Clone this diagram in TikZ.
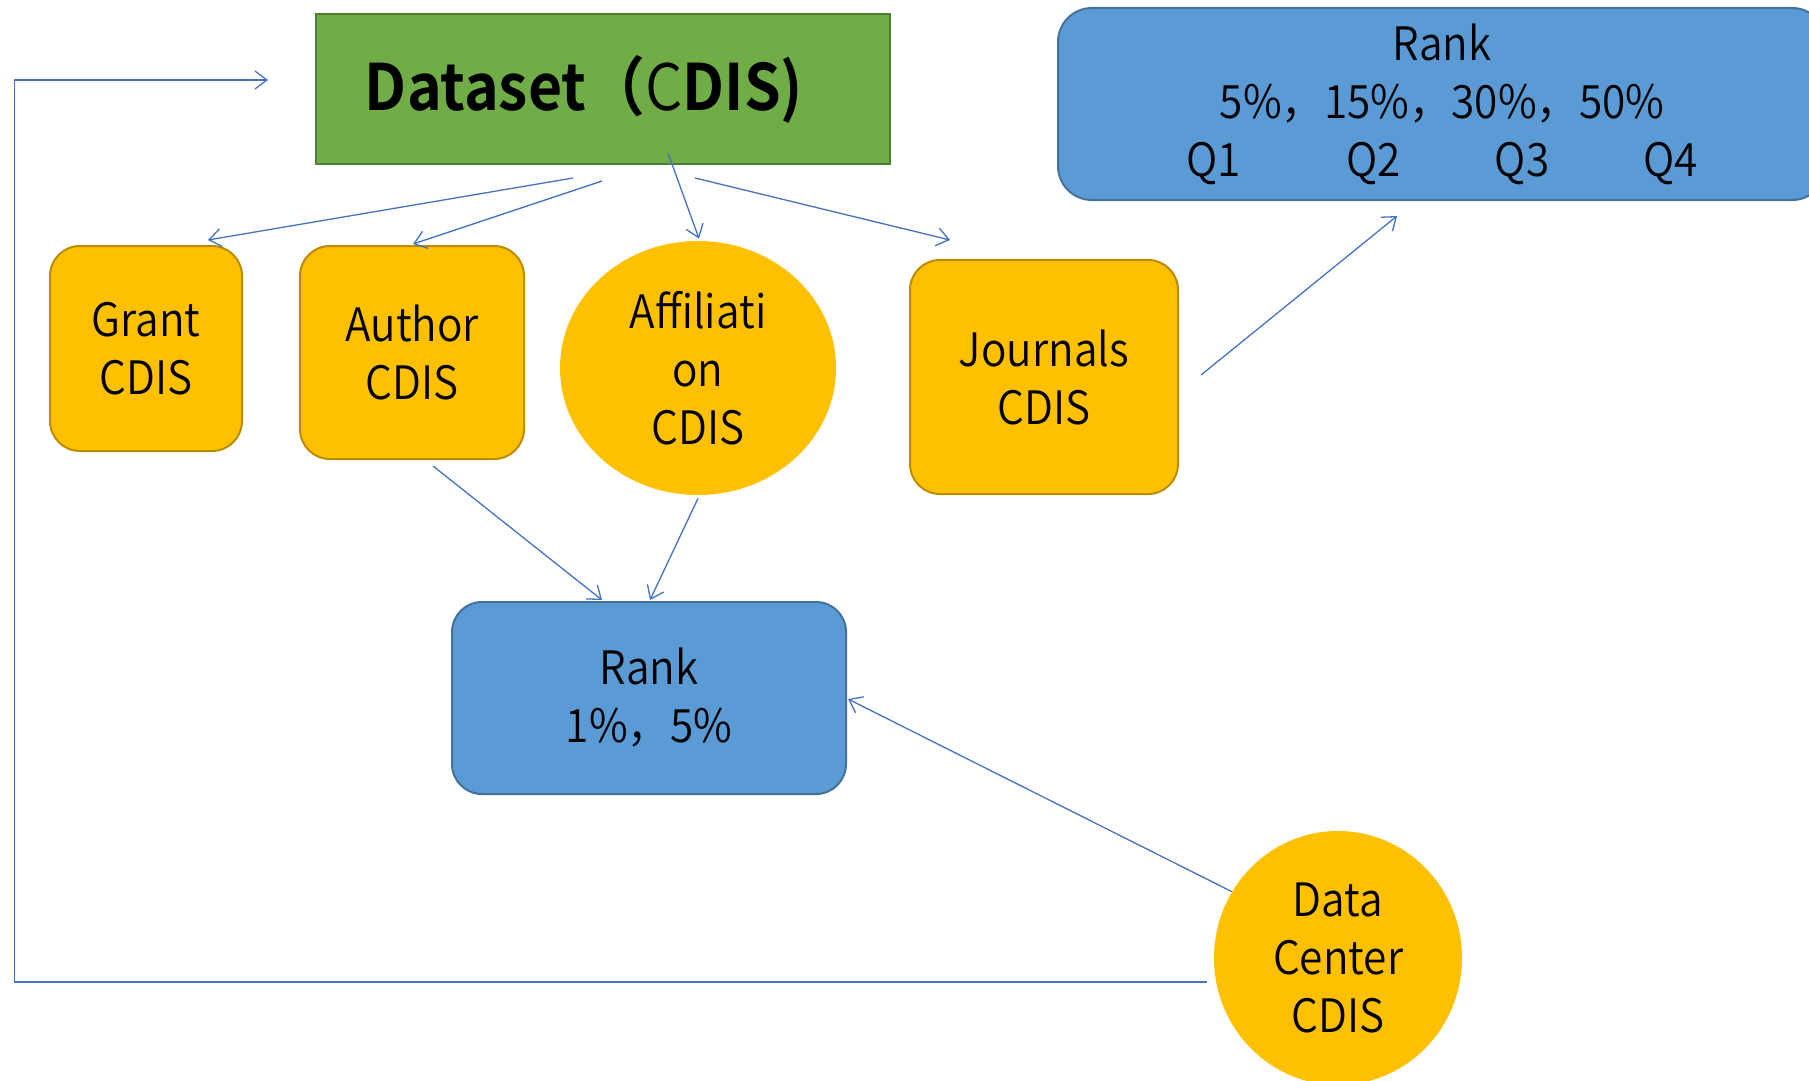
\documentclass[tikz,border=0pt]{standalone}
\usepackage{fontspec}
\setmainfont{Noto Sans CJK SC}[UprightFont=* DemiLight, BoldFont=* Bold, FakeStretch=0.92]
\usetikzlibrary{arrows.meta, shapes.geometric}
\definecolor{leaf}{HTML}{70AD47}
\definecolor{leafline}{HTML}{507E32}
\definecolor{amber}{HTML}{FFC000}
\definecolor{amberline}{HTML}{BC8C00}
\definecolor{sky}{HTML}{5B9BD5}
\definecolor{skyline}{HTML}{41719C}
\definecolor{wire}{HTML}{4472C4}

\begin{document}
\begin{tikzpicture}[x=0.5pt, y=-0.5pt,
  every node/.style={align=center, font=\fontsize{23}{29}\selectfont},
  src/.style={draw=leafline, line width=1pt, fill=leaf, minimum width=287pt, minimum height=75pt},
  part/.style={draw=amberline, line width=1pt, fill=amber, rounded corners=15pt},
  partoval/.style={ellipse, fill=amber, inner sep=0pt},
  rank/.style={draw=skyline, line width=1pt, fill=sky, rounded corners=15pt},
  link/.style={wire, line width=0.65pt, -{Straight Barb[length=6pt, width=9pt]}}]
\useasboundingbox (0,0) rectangle (1809,1081);

\node[src, font=\fontsize{32}{37}\selectfont\bfseries] (ds) at (603,89) {Dataset（{\mdseries C}DIS)\hspace*{19pt}};
\node[rank, rounded corners=17pt, minimum width=384pt, minimum height=96pt] (rq) at (1442,104)
  {Rank\\5\%，15\%，30\%，50\%\\Q1\hspace{53pt}Q2\hspace{47pt}Q3\hspace{47pt}Q4};
\node[part, minimum width=96pt, minimum height=102.5pt] (gr) at (146,348.5) {Grant\\CDIS};
\node[part, minimum width=112pt, minimum height=106.5pt] (au) at (412,352.5) {Author\\CDIS};
\node[partoval, minimum width=138pt, minimum height=127pt] (af) at (698,368) {Affiliati\\on\\CDIS};
\node[part, minimum width=134pt, minimum height=117pt] (jo) at (1044,377) {Journals\\CDIS};
\node[rank, minimum width=197pt, minimum height=96pt] (rb) at (649,698) {Rank\\1\%，5\%};
\node[partoval, minimum width=124pt, minimum height=127pt] (dc) at (1338,958) {Data\\Center\\CDIS};

\draw[link] ([shift={(-30,13)}]ds.south) -- ([shift={(62,-5)}]gr.north);
\draw[link] ([shift={(-1,16)}]ds.south) -- ([shift={(1,-1)}]au.north);
\draw[link] ([shift={(65,-12)}]ds.south) -- ([shift={(1,-2)}]af.north);
\draw[link] ([shift={(92,13)}]ds.south) -- ([shift={(-94,-19)}]jo.north);
\draw[link] ([shift={(22,-2)}]jo.east) -- ([shift={(-45,15)}]rq.south);
\draw[link] ([shift={(21,6)}]au.south) -- ([shift={(-47,-1)}]rb.north);
\draw[link] ([shift={(0,3)}]af.south) -- ([shift={(1,-1)}]rb.north);
\draw[link] (dc.148) -- ([shift={(1,1)}]rb.east);
\draw[link] ([shift={(-7,24)}]dc.west) -- ++(-1192,0) |- ([shift={(-47,-9)}]ds.west);
\end{tikzpicture}
\end{document}
